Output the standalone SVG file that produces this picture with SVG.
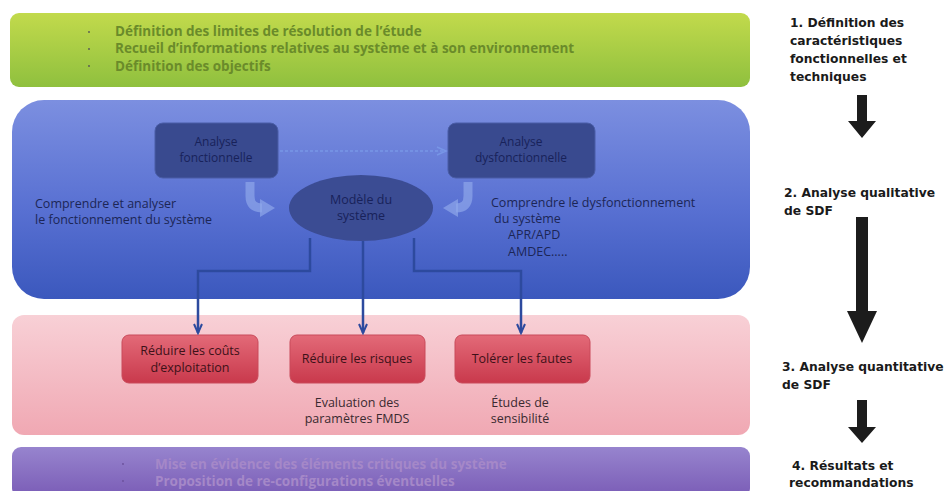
<svg xmlns="http://www.w3.org/2000/svg" width="947" height="491" viewBox="0 0 947 491">
<defs>
<linearGradient id="gGreen" x1="0" y1="0" x2="0" y2="1"><stop offset="0" stop-color="#c2da4c"/><stop offset="1" stop-color="#8fc03e"/></linearGradient>
<linearGradient id="gBlue" x1="0" y1="0" x2="0" y2="1"><stop offset="0" stop-color="#7c8fe0"/><stop offset="0.55" stop-color="#5870d2"/><stop offset="1" stop-color="#3b58bd"/></linearGradient>
<linearGradient id="gPink" x1="0" y1="0" x2="0" y2="1"><stop offset="0" stop-color="#f8d0d6"/><stop offset="1" stop-color="#f0a8b3"/></linearGradient>
<linearGradient id="gPurple" x1="0" y1="0" x2="0" y2="1"><stop offset="0" stop-color="#9784ce"/><stop offset="1" stop-color="#7a5cb6"/></linearGradient>
<linearGradient id="gRed" x1="0" y1="0" x2="0" y2="1"><stop offset="0" stop-color="#e36a78"/><stop offset="1" stop-color="#c9394c"/></linearGradient>
<marker id="openArrow" markerWidth="12" markerHeight="10" refX="10" refY="5" orient="auto" markerUnits="userSpaceOnUse"><path d="M1,1 L10,5 L1,9" fill="none" stroke="#2d4a9e" stroke-width="2"/></marker>
<marker id="openArrowLight" markerWidth="12" markerHeight="10" refX="10" refY="5" orient="auto" markerUnits="userSpaceOnUse"><path d="M1,1 L10,5 L1,9" fill="none" stroke="#7896e6" stroke-width="1.5"/></marker>
<style>
.t{font-family:"Open Sans","DejaVu Sans",sans-serif}
.green{font-size:13.5px;font-weight:bold;fill:#6a8b2a}
.purple{font-size:13.5px;font-weight:bold;fill:#a588c8}
.blue{font-size:12.5px;fill:#1c2656}
.dark{font-size:12px;fill:#18225a;text-anchor:middle}
.red{font-size:12.5px;fill:#3d1118;text-anchor:middle}
.pinkt{font-size:12.5px;fill:#3a2a30;text-anchor:middle}
.step{font-family:"DejaVu Sans",sans-serif;font-weight:bold;font-size:12.3px;fill:#1a1a1a}
.darkbox{fill:#394a8f;stroke:#4a5da6;stroke-width:1}
.redbox{fill:url(#gRed);stroke:#c94a5a;stroke-width:1}
.conn{fill:none;stroke:#2d4a9e;stroke-width:2.5}
.bigarrow{fill:#1c1c1c}
.bent{fill:none;stroke:#8ea6ea;stroke-width:9;opacity:0.7}
.bul{fill:#555}
</style>
</defs>
<rect width="947" height="491" fill="#ffffff"/>

<g id="band-definition">
<rect x="10" y="13" width="740" height="74" rx="9" fill="url(#gGreen)"/>
<circle cx="89" cy="32" r="0.9" class="bul"/><circle cx="89" cy="49" r="0.9" class="bul"/><circle cx="89" cy="66" r="0.9" class="bul"/>
<text class="t green" x="115" y="36">Définition des limites de résolution de l’étude<tspan x="115" dy="17">Recueil d’informations relatives au système et à son environnement</tspan><tspan x="115" dy="18">Définition des objectifs</tspan></text>
</g>

<g id="band-qualitative">
<rect x="12" y="100" width="738" height="199" rx="32" fill="url(#gBlue)"/>
<text class="t blue" x="35" y="208">Comprendre et analyser<tspan x="35" dy="16.2">le fonctionnement du système</tspan></text>
<text class="t blue" x="491" y="207">Comprendre le dysfonctionnement<tspan x="494" dy="16.2">du système</tspan><tspan x="508" dy="16.2">APR/APD</tspan><tspan x="508" dy="16.2">AMDEC.....</tspan></text>
<path class="bent" d="M250,182 L250,196 Q250,208 262,208"/>
<polygon points="260,199 275,208 260,217" fill="#8ea6ea" opacity="0.7"/>
<path class="bent" d="M468,182 L468,196 Q468,208 456,208" stroke="#7f9ae4"/>
<polygon points="458,199 443,208 458,217" fill="#8ea6ea" opacity="0.7"/>
</g>

<g id="analyse-fonctionnelle">
<rect class="darkbox" x="155" y="123" width="123" height="55" rx="8"/>
<text class="t dark" x="216" y="146">Analyse<tspan x="216" dy="16">fonctionnelle</tspan></text>
</g>

<g id="analyse-dysfonctionnelle">
<rect class="darkbox" x="448" y="123" width="147" height="55" rx="8"/>
<text class="t dark" x="521" y="146">Analyse<tspan x="521" dy="16">dysfonctionnelle</tspan></text>
</g>

<g id="modele-systeme">
<ellipse cx="361" cy="208" rx="72" ry="33" fill="#3b4c93"/>
<text class="t dark" x="361" y="204" style="font-size:12.5px">Modèle du<tspan x="361" dy="16.2">système</tspan></text>
</g>

<g id="band-quantitative">
<rect x="12" y="315" width="738" height="120" rx="12" fill="url(#gPink)"/>
<text class="t pinkt" x="357" y="407">Evaluation des<tspan x="357" dy="16.2">paramètres FMDS</tspan></text>
<text class="t pinkt" x="520" y="407">Études de<tspan x="520" dy="16.2">sensibilité</tspan></text>
</g>

<g id="reduire-couts">
<rect class="redbox" x="122" y="335" width="136" height="48" rx="7"/>
<text class="t red" x="190" y="355">Réduire les coûts<tspan x="190" dy="17">d’exploitation</tspan></text>
</g>
<g id="reduire-risques">
<rect class="redbox" x="290" y="335" width="135" height="48" rx="7"/>
<text class="t red" x="357" y="363">Réduire les risques</text>
</g>
<g id="tolerer-fautes">
<rect class="redbox" x="455" y="335" width="135" height="48" rx="7"/>
<text class="t red" x="522" y="363">Tolérer les fautes</text>
</g>

<g id="band-resultats">
<rect x="12" y="447" width="738" height="50" rx="9" fill="url(#gPurple)"/>
<circle cx="123" cy="464" r="0.9" fill="#6a4f9a"/><circle cx="123" cy="481" r="0.9" fill="#6a4f9a"/>
<text class="t purple" x="155" y="469">Mise en évidence des éléments critiques du système<tspan x="155" dy="17">Proposition de re-configurations éventuelles</tspan></text>
</g>

<g id="connectors">
<line x1="280" y1="151" x2="446" y2="151" stroke="#7896e6" stroke-width="1.5" stroke-dasharray="3 2" marker-end="url(#openArrowLight)"/>
<path class="conn" d="M310,238 L310,271 L198,271 L198,333" marker-end="url(#openArrow)"/>
<path class="conn" d="M363,241 L363,333" marker-end="url(#openArrow)"/>
<path class="conn" d="M414,238 L414,271 L521,271 L521,333" marker-end="url(#openArrow)"/>
</g>

<g id="steps">
<text class="step" x="790" y="27">1. Définition des<tspan x="790" dy="18">caractéristiques</tspan><tspan x="790" dy="18">fonctionnelles et</tspan><tspan x="790" dy="18">techniques</tspan></text>
<polygon class="bigarrow" points="857,95 867,95 867,121 876,121 862,138 848,121 857,121"/>
<text class="step" x="784" y="197">2. Analyse qualitative<tspan x="784" dy="18">de SDF</tspan></text>
<polygon class="bigarrow" points="856,217 868,217 868,311 877,311 862,343 847,311 856,311"/>
<text class="step" x="782" y="371">3. Analyse quantitative<tspan x="782" dy="18">de SDF</tspan></text>
<polygon class="bigarrow" points="857,400 867,400 867,427 876,427 862,443 848,427 857,427"/>
<text class="step" x="792" y="470">4. Résultats et<tspan x="789" dy="17">recommandations</tspan></text>
</g>
</svg>
